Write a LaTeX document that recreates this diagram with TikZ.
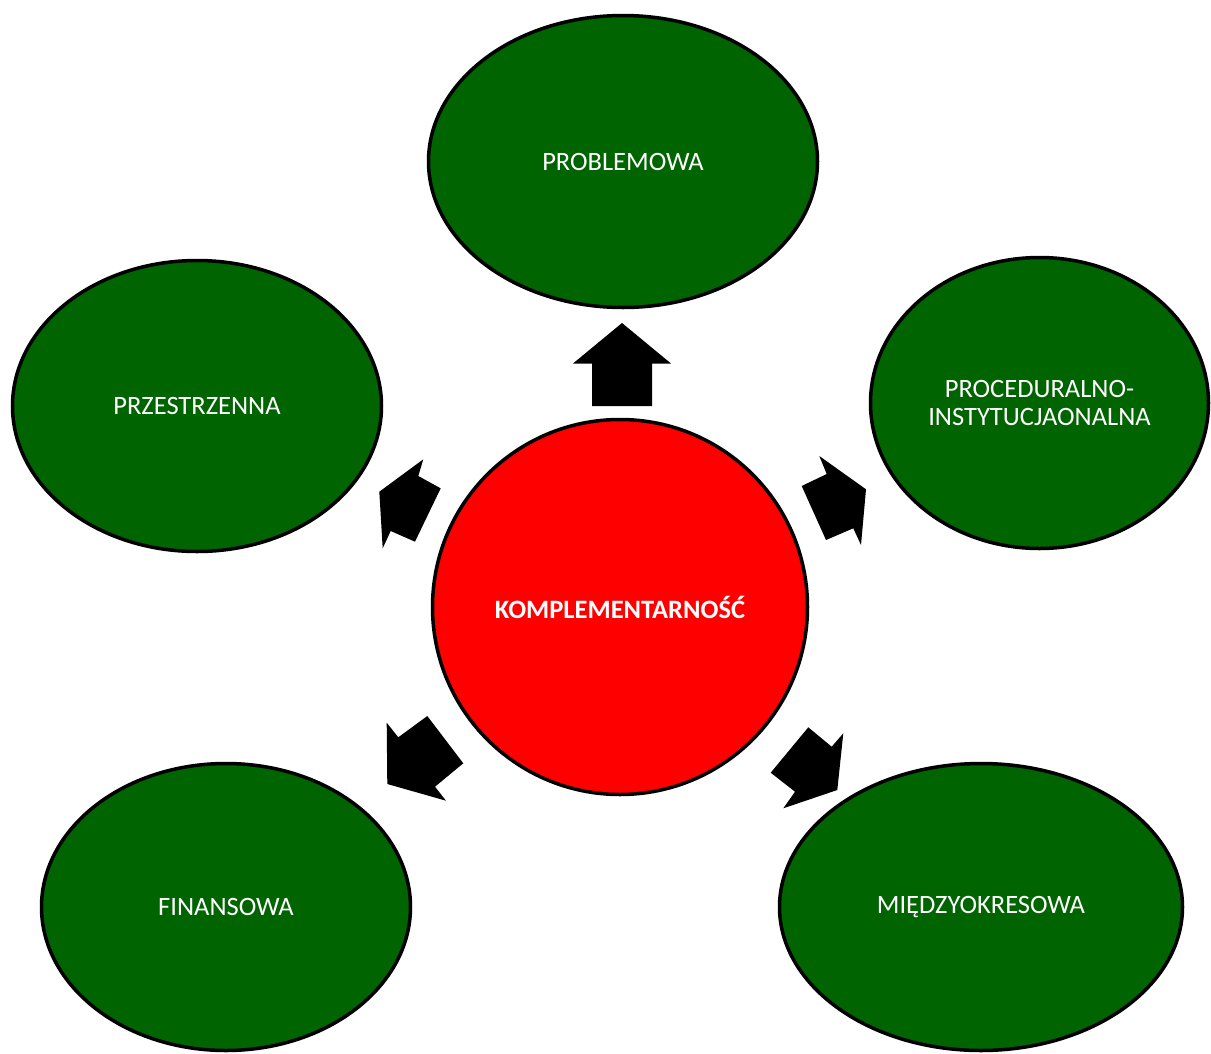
\documentclass[tikz,border=0pt]{standalone}
\usepackage{fontspec}
\setmainfont{Carlito}
\usetikzlibrary{shapes.geometric}
\definecolor{dgreen}{RGB}{0,100,0}
\definecolor{cred}{RGB}{255,0,0}
\begin{document}
\begin{tikzpicture}[x=1pt,y=-1pt,
  oval/.style={ellipse, draw=black, line width=3.5pt, fill=dgreen, inner sep=0pt,
    text=white, align=center, font=\fontsize{26.5}{28}\selectfont},
  hub/.style={circle, draw=black, line width=3.5pt, fill=cred, inner sep=0pt,
    text=white, font=\bfseries\fontsize{26.5}{28}\selectfont},
  blockarrow/.style={fill=black, draw=none}]
\useasboundingbox (0,0) rectangle (1211,1053);
\node[hub, minimum size=375pt] (c) at (620,607) {KOMPLEMENTARNOŚĆ};
\node[oval, minimum width=389pt, minimum height=292pt] (p) at (623,161.5) {PROBLEMOWA};
\node[oval, minimum width=369pt, minimum height=291pt] (s) at (197,406) {PRZESTRZENNA};
\node[oval, minimum width=338pt, minimum height=291pt] (i) at (1039.5,403) {PROCEDURALNO-\\INSTYTUCJAONALNA};
\node[oval, minimum width=369pt, minimum height=287pt] (f) at (226,907) {FINANSOWA};
\node[oval, minimum width=403pt, minimum height=287pt] (m) at (981,907) {MIĘDZYOKRESOWA};
% block arrows
\fill[blockarrow] (592,406) -- (592,363.5) -- (573,363.5) -- (622,323) -- (671,363.5) -- (652,363.5) -- (652,406) -- cycle;
\fill[blockarrow] (379.3,491.7) -- (423.3,459.3) -- (418.3,476) -- (440.7,488.3) -- (415,541.7) -- (390.7,531) -- (382.7,548.3) -- cycle;
\fill[blockarrow] (866,489.3) -- (819.3,456) -- (826.7,474) -- (801.7,486) -- (826,540) -- (853.3,528.3) -- (861,545) -- cycle;
\fill[blockarrow] (387.3,784) -- (386.7,722.7) -- (398.3,737.3) -- (427.3,716) -- (463.3,763.3) -- (435,786.7) -- (446,800.7) -- cycle;
\fill[blockarrow] (837.3,790) -- (843.3,733.3) -- (831.7,746.7) -- (808.3,727.3) -- (770.7,772.7) -- (795,791.7) -- (783.3,808.3) -- cycle;
\end{tikzpicture}
\end{document}
